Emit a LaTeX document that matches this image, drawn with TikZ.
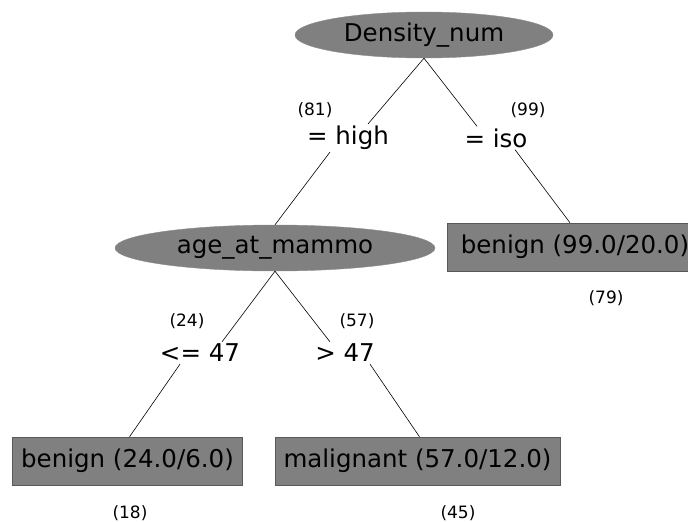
\documentclass[tikz,border=0pt]{standalone}
\usepackage{fontspec}
\setmainfont{DejaVu Sans}
\usetikzlibrary{shapes.geometric}

\begin{document}
\begin{tikzpicture}[x=1pt, y=-1pt,
  attr/.style={ellipse, fill=gray, draw=gray!90!white, minimum height=46pt, inner sep=0pt, font=\fontsize{24.5}{28}\selectfont},
  leaf/.style={rectangle, fill=gray, draw=gray!70!black, minimum height=48pt, inner xsep=8.5pt, font=\fontsize{24.5}{28}\selectfont},
  cond/.style={inner sep=2pt, font=\fontsize{24.5}{28}\selectfont},
  cnt/.style={inner sep=0pt, font=\fontsize{17}{20}\selectfont}]
\clip (0,0) rectangle (688,522);

% Nodes
\node[attr, minimum width=258pt] (dens) at (424,35) {Density\_num};
\node[attr, minimum width=320pt] (age) at (275,248) {age\_at\_mammo};

\node[cond] (high) at (348,138) {= high};
\node[cond] (iso) at (496,138) {= iso};
\node[cond] (le) at (200,353) {<= 47};
\node[cond] (gt) at (345,353) {> 47};

\node[leaf, minimum width=256pt] (b99) at (575,247) {benign (99.0/20.0)};
\node[leaf] (b24) at (127.5,461) {benign (24.0/6.0)};
\node[leaf] (mal) at (417.5,461) {malignant (57.0/12.0)};

% Counts
\node[cnt] (n81) at (315,110) {(81)};
\node[cnt] (n99) at (528,110) {(99)};
\node[cnt] (n24) at (187,321) {(24)};
\node[cnt] (n57) at (357,321) {(57)};
\node[cnt] (n79) at (606,298) {(79)};
\node[cnt] (n18) at (130,513) {(18)};
\node[cnt] (n45) at (458,513) {(45)};

% Edges
\draw[line width=0.6pt] (dens.south) -- ([xshift=20]high.north);
\draw[line width=0.6pt] (dens.south) -- ([xshift=-19]iso.north);
\draw[line width=0.6pt] ([xshift=-18]high.south) -- ([xshift=0]age.north);
\draw[line width=0.6pt] ([xshift=19]iso.south) -- ([xshift=-5]b99.north);
\draw[line width=0.6pt] (age.south) -- ([xshift=22]le.north);
\draw[line width=0.6pt] (age.south) -- ([xshift=-15]gt.north);
\draw[line width=0.6pt] ([xshift=-20]le.south) -- ([xshift=2]b24.north);
\draw[line width=0.6pt] ([xshift=25]gt.south) -- ([xshift=2]mal.north);

\end{tikzpicture}
\end{document}
